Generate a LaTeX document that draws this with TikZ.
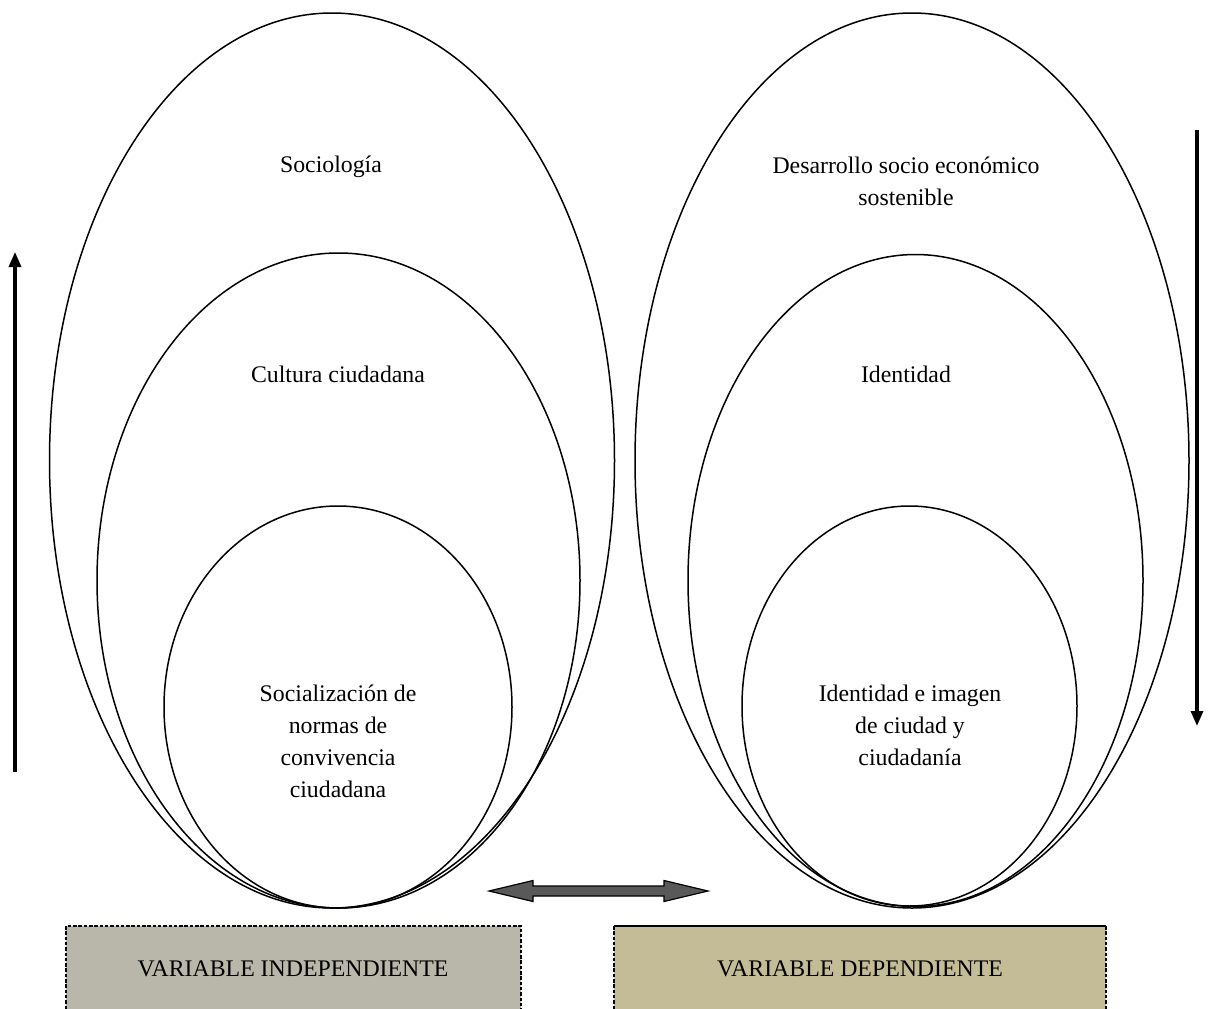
\documentclass[tikz,border=0pt]{standalone}
\usepackage{fontspec}
\setmainfont{Liberation Serif}
\usetikzlibrary{arrows.meta}
\definecolor{indepfill}{HTML}{B8B7A9}
\definecolor{depfill}{HTML}{C4BC97}
\definecolor{arrowgray}{HTML}{595959}
\tikzset{
  ring/.style={draw=black, line width=1.5pt},
  lbl/.style={align=center, inner sep=0pt, font=\fontsize{23.8}{32}\selectfont},
  flow/.style={line width=3.2pt, -{Triangle[length=15pt,width=12pt]}},
  varbox/.style={line width=1.4pt, dash pattern=on 3.5pt off 1.8pt},
}
\begin{document}
\begin{tikzpicture}[x=1pt,y=-1pt]
\useasboundingbox (0,0) rectangle (1213,1009);
% left ellipses
\draw[ring] (332,460.5) ellipse [x radius=282.5, y radius=447.5];
\draw[ring] (338.5,580.5) ellipse [x radius=241.5, y radius=327.5];
\draw[ring] (338,707) ellipse [x radius=174, y radius=201];
% right ellipses
\draw[ring] (912,460.5) ellipse [x radius=277, y radius=447.5];
\draw[ring] (915.5,580.5) ellipse [x radius=227.5, y radius=326];
\draw[ring] (909.5,706) ellipse [x radius=167.5, y radius=200];
% labels
\node[lbl] (soc) at (331,167) {Sociología};
\node[lbl] (cult) at (338,374) {Cultura ciudadana};
\node[lbl] (norm) at (338,741) {Socialización de\\normas de\\convivencia\\ciudadana};
\node[lbl] (des) at (906,181) {Desarrollo socio económico\\sostenible};
\node[lbl] (ident) at (906,374) {Identidad};
\node[lbl] (img) at (910,725) {Identidad e imagen\\de ciudad y\\ciudadanía};
% side arrows
\coordinate (lb) at (15,772);
\coordinate (lt) at (15,252);
\coordinate (rt) at (1197,130);
\coordinate (rb) at (1197,726);
\draw[flow] (lb) -- (lt);
\draw[flow] (rt) -- (rb);
% double arrow
\coordinate (dl) at (489,891);
\coordinate (dr) at (708,891);
\draw[fill=arrowgray, draw=black, line width=1.2pt, line join=miter]
  (dl) -- (533,880.5) -- (533,886) -- (664,886) -- (664,880.5) -- (dr)
  -- (664,901.5) -- (664,896) -- (533,896) -- (533,901.5) -- cycle;
% boxes
\fill[indepfill] (66,926) rectangle (521,1009);
\draw[varbox] (66,1009) -- (66,926) -- (521,926) -- (521,1009);
\fill[depfill] (614,926) rectangle (1106,1009);
\draw[varbox] (614,1009) -- (614,926);
\draw[varbox] (1106,926) -- (1106,1009);
\draw[line width=1.6pt] (614,926) -- (1106,926);
\node[lbl] (vi) at (293,969) {VARIABLE INDEPENDIENTE};
\node[lbl] (vd) at (860,969) {VARIABLE DEPENDIENTE};
\end{tikzpicture}
\end{document}
